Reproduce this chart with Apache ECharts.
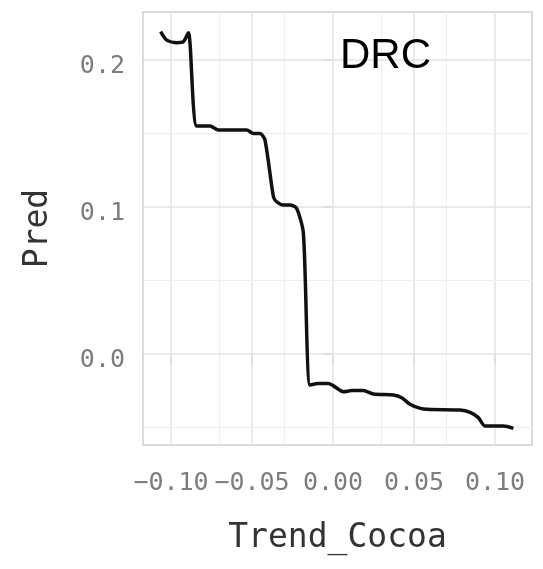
<!DOCTYPE html>
<html>
<head>
<meta charset="utf-8">
<script src="https://cdn.jsdelivr.net/npm/echarts@6/dist/echarts.min.js"></script>
<style>
  html, body { margin: 0; padding: 0; background: #ffffff; }
  #chart { width: 543px; height: 569px; }
</style>
</head>
<body>
<div id="chart"></div>
<script>
// Partial dependence of predicted value on Trend_Cocoa
const trendCocoa = [
  -0.1064, -0.1027, -0.0965, -0.0924, -0.0893, -0.0841, -0.0759, -0.0708,
  -0.0533, -0.0492, -0.0451, -0.0420, -0.0368, -0.0348, -0.0307, -0.0265,
  -0.0224, -0.0183, -0.0142, -0.0090, -0.0029, 0.0000, 0.0064, 0.0115,
  0.0187, 0.0249, 0.0372, 0.0424, 0.0475, 0.0558, 0.0784, 0.0846,
  0.0897, 0.0938, 0.1051, 0.1113
];
const pred = [
  0.2193, 0.2136, 0.2118, 0.2125, 0.2186, 0.1551, 0.1551, 0.1524,
  0.1524, 0.1501, 0.1501, 0.1456, 0.1070, 0.1036, 0.1014, 0.1014,
  0.0990, 0.0821, -0.0211, -0.0200, -0.0200, -0.0215, -0.0256, -0.0249,
  -0.0249, -0.0272, -0.0279, -0.0297, -0.0342, -0.0374, -0.0381, -0.0397,
  -0.0433, -0.0490, -0.0490, -0.0506
];

const xTicks = [-0.10, -0.05, 0.00, 0.05, 0.10];
const xMinor = [-0.075, -0.025, 0.025, 0.075];
const yTicks = [0.0, 0.1, 0.2];
const yMinor = [-0.05, 0.05, 0.15];

const xRange = [-0.1173, 0.1228];
const yRange = [-0.0619, 0.2327];

const panelTitle = 'DRC';
const xTitle = 'Trend_Cocoa';
const yTitle = 'Pred';

const mono = '"DejaVu Sans Mono", monospace';
const majorGrid = { color: '#e3e3e3', width: 1.5, type: 'solid' };
const minorGrid = { color: '#efefef', width: 1, type: 'solid' };
const tickStyle = { color: '#c4c4c4', width: 1.5 };

const gridLines = []
  .concat(xTicks.map(v => ({ xAxis: v, lineStyle: majorGrid })))
  .concat(xMinor.map(v => ({ xAxis: v, lineStyle: minorGrid })))
  .concat(yTicks.map(v => ({ yAxis: v, lineStyle: majorGrid })))
  .concat(yMinor.map(v => ({ yAxis: v, lineStyle: minorGrid })));

const chart = echarts.init(document.getElementById('chart'), null, { renderer: 'canvas' });

chart.setOption({
  animation: false,
  backgroundColor: '#ffffff',
  grid: {
    left: 143, top: 12, width: 389, height: 433,
    show: true, borderColor: '#cfcfcf', borderWidth: 1.5, backgroundColor: 'transparent'
  },
  xAxis: {
    type: 'value',
    min: xRange[0], max: xRange[1],
    name: xTitle,
    nameLocation: 'middle',
    nameGap: 77,
    nameTextStyle: { fontFamily: mono, fontSize: 33, color: '#333333' },
    axisLine: { show: false },
    splitLine: { show: false },
    axisTick: { show: true, length: 10, customValues: xTicks, lineStyle: tickStyle },
    axisLabel: {
      customValues: xTicks,
      margin: 26,
      fontFamily: mono, fontSize: 25, color: '#7d7d7d',
      formatter: v => v.toFixed(2).replace('-', '\u2212')
    }
  },
  yAxis: {
    type: 'value',
    min: yRange[0], max: yRange[1],
    name: yTitle,
    nameLocation: 'middle',
    nameRotate: 90,
    nameGap: 88,
    nameTextStyle: { fontFamily: mono, fontSize: 33, color: '#333333' },
    axisLine: { show: false },
    splitLine: { show: false },
    axisTick: { show: true, length: 10, customValues: yTicks, lineStyle: tickStyle },
    axisLabel: {
      customValues: yTicks,
      margin: 18,
      fontFamily: mono, fontSize: 25, color: '#7d7d7d',
      formatter: v => '{t|' + v.toFixed(1) + '}',
      rich: { t: { fontFamily: mono, fontSize: 25, color: '#7d7d7d', padding: [12, 0, 0, 0] } }
    }
  },
  graphic: [{
    type: 'text',
    left: 340, top: 35,
    style: {
      text: panelTitle,
      font: '42px "Liberation Sans", Arial, sans-serif',
      fill: '#000000'
    },
    z: 100
  }],
  series: [{
    type: 'line',
    data: trendCocoa.map((x, i) => [x, pred[i]]),
    showSymbol: false,
    smooth: 0.25,
    lineStyle: { color: '#111111', width: 3.5 },
    z: 10,
    markLine: {
      silent: true,
      symbol: ['none', 'none'],
      label: { show: false },
      z: 1,
      data: gridLines
    }
  }]
});
</script>
</body>
</html>
